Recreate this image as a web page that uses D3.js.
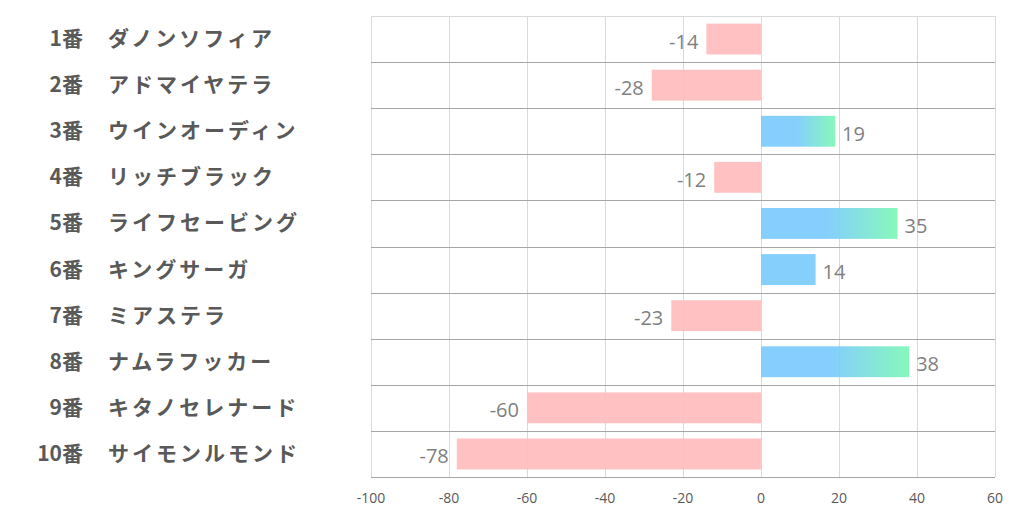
<!DOCTYPE html>
<html>
<head>
<meta charset="utf-8">
<script src="https://cdn.jsdelivr.net/npm/d3@7"></script>
<style>
  body { margin: 0; background: #fff; }
  svg { display: block; }
</style>
</head>
<body>
<div id="chart"></div>
<script>
// horse number, name, score; trend marks the bars drawn with the blue→green fade
const numbers = ['1番', '2番', '3番', '4番', '5番', '6番', '7番', '8番', '9番', '10番'];
const names = ['ダノンソフィア', 'アドマイヤテラ', 'ウインオーディン', 'リッチブラック', 'ライフセービング',
  'キングサーガ', 'ミアステラ', 'ナムラフッカー', 'キタノセレナード', 'サイモンルモンド'];
const values = [-14, -28, 19, -12, 35, 14, -23, 38, -60, -78];
const trend = [false, false, true, false, true, false, false, true, false, false];
const xTicks = [-100, -80, -60, -40, -20, 0, 20, 40, 60];

const W = 1022, H = 522;
const margin = { top: 16, right: 27, bottom: 45, left: 371 };
const width = W - margin.left - margin.right;
const height = H - margin.top - margin.bottom;

const svg = d3.select('#chart').append('svg')
  .attr('width', W).attr('height', H);

const defs = svg.append('defs');
const grad = defs.append('linearGradient')
  .attr('id', 'pos-fade')
  .attr('x1', '0%').attr('x2', '100%').attr('y1', '0%').attr('y2', '0%');
grad.append('stop').attr('offset', '48%').attr('stop-color', '#7ccbfd');
grad.append('stop').attr('offset', '100%').attr('stop-color', '#7ef8b6');

const g = svg.append('g').attr('transform', `translate(${margin.left},${margin.top})`);

const x = d3.scaleLinear().domain([-100, 60]).range([0, width]);
const y = d3.scaleBand().domain(d3.range(values.length)).range([0, height]).paddingInner(0.33).paddingOuter(0.165);
const rowH = height / values.length;

// vertical gridlines
g.selectAll('.vgrid').data(xTicks)
  .join('line')
  .attr('x1', d => Math.round(x(d)) + 0.5).attr('x2', d => Math.round(x(d)) + 0.5)
  .attr('y1', 0).attr('y2', height)
  .attr('stroke', '#d9d9d9').attr('stroke-width', 1);

// top border
g.append('line')
  .attr('x1', 0).attr('x2', width).attr('y1', 0.5).attr('y2', 0.5)
  .attr('stroke', '#d9d9d9');

// row separators + bottom axis line
g.selectAll('.hgrid').data(d3.range(1, values.length + 1))
  .join('line')
  .attr('x1', 0).attr('x2', width)
  .attr('y1', d => Math.round(d * rowH) + 0.5).attr('y2', d => Math.round(d * rowH) + 0.5)
  .attr('stroke', '#a6a6a6').attr('stroke-width', 1);

// bars
g.selectAll('.bar').data(values)
  .join('rect')
  .attr('x', d => x(Math.min(0, d)))
  .attr('y', (d, i) => y(i))
  .attr('width', d => Math.abs(x(d) - x(0)))
  .attr('height', y.bandwidth())
  .attr('fill', (d, i) => d < 0 ? '#ffbcbc' : (trend[i] ? 'url(#pos-fade)' : '#7ccbfd'))
  .attr('opacity', 0.93);

// value labels
g.selectAll('.val').data(values)
  .join('text')
  .attr('x', d => d < 0 ? x(d) - 8 : x(d) + 7)
  .attr('y', (d, i) => y(i) + y.bandwidth() / 2 + 2)
  .attr('dominant-baseline', 'central')
  .attr('text-anchor', d => d < 0 ? 'end' : 'start')
  .attr('fill', '#7f7f7f')
  .attr('font-family', '"Open Sans", "Noto Sans", sans-serif')
  .attr('font-size', '20px')
  .text(d => d);

// x tick labels
g.selectAll('.tick-label').data(xTicks)
  .join('text')
  .attr('x', d => x(d))
  .attr('y', height + 20)
  .attr('dominant-baseline', 'central')
  .attr('text-anchor', 'middle')
  .attr('fill', '#595959')
  .attr('font-family', '"Open Sans", "Noto Sans", sans-serif')
  .attr('font-size', '14px')
  .text(d => d);

// category labels: number right aligned, name left aligned
const labels = svg.append('g')
  .attr('font-family', '"Noto Sans CJK JP", sans-serif')
  .attr('font-weight', 'bold')
  .attr('font-size', '21px')
  .attr('fill', '#595959');

labels.selectAll('.num').data(numbers)
  .join('text')
  .attr('x', 83)
  .attr('y', (d, i) => margin.top + y(i) + y.bandwidth() / 2 - 2)
  .attr('dominant-baseline', 'central')
  .attr('text-anchor', 'end')
  .text(d => d);

labels.selectAll('.name').data(names)
  .join('text')
  .attr('x', 108)
  .attr('y', (d, i) => margin.top + y(i) + y.bandwidth() / 2 - 2)
  .attr('dominant-baseline', 'central')
  .attr('letter-spacing', '3px')
  .text(d => d);
</script>
</body>
</html>
